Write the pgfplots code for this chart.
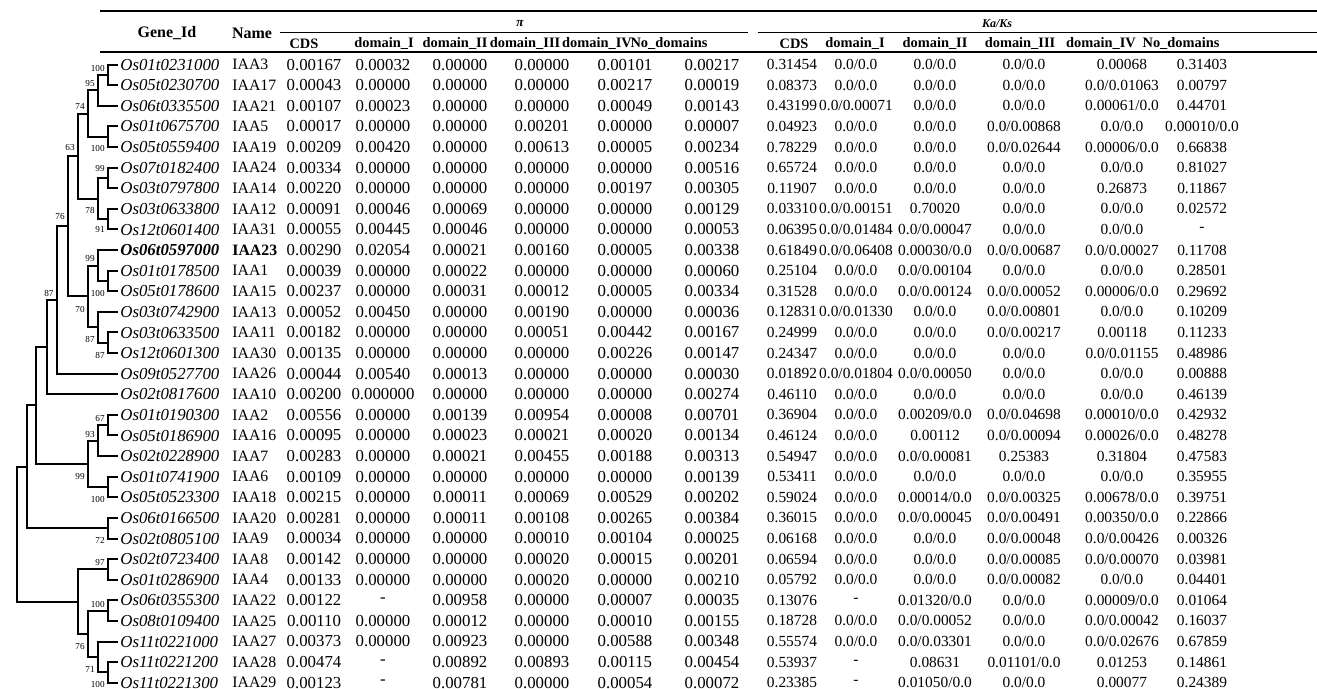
\documentclass[border=0pt]{standalone}
\usepackage{pgfplots}
\pgfplotsset{compat=1.18}
\usepackage{pgfplotstable}
\usepackage{fontspec}
\setmainfont{Liberation Serif}

\newcommand\dat{\fontsize{8.4}{10}\selectfont}
\newcommand\kdat{\fontsize{7.7}{9}\selectfont}
\newcommand\nm{\fontsize{7.9}{9}\selectfont}
\newcommand\hdr{\fontsize{7.2}{9}\selectfont\bfseries}
\newcommand\bs{\fontsize{4.6}{5}\selectfont}

\pgfplotstableread{
r p1 p2 p3 p4 p5 p6 k1 k2 k3 k4 k5 k6
1 0.00167 0.00032 0.00000 0.00000 0.00101 0.00217 0.31454 0.0/0.0 0.0/0.0 0.0/0.0 0.00068 0.31403
2 0.00043 0.00000 0.00000 0.00000 0.00217 0.00019 0.08373 0.0/0.0 0.0/0.0 0.0/0.0 0.0/0.01063 0.00797
3 0.00107 0.00023 0.00000 0.00000 0.00049 0.00143 0.43199 0.0/0.00071 0.0/0.0 0.0/0.0 0.00061/0.0 0.44701
4 0.00017 0.00000 0.00000 0.00201 0.00000 0.00007 0.04923 0.0/0.0 0.0/0.0 0.0/0.00868 0.0/0.0 0.00010/0.0
5 0.00209 0.00420 0.00000 0.00613 0.00005 0.00234 0.78229 0.0/0.0 0.0/0.0 0.0/0.02644 0.00006/0.0 0.66838
6 0.00334 0.00000 0.00000 0.00000 0.00000 0.00516 0.65724 0.0/0.0 0.0/0.0 0.0/0.0 0.0/0.0 0.81027
7 0.00220 0.00000 0.00000 0.00000 0.00197 0.00305 0.11907 0.0/0.0 0.0/0.0 0.0/0.0 0.26873 0.11867
8 0.00091 0.00046 0.00069 0.00000 0.00000 0.00129 0.03310 0.0/0.00151 0.70020 0.0/0.0 0.0/0.0 0.02572
9 0.00055 0.00445 0.00046 0.00000 0.00000 0.00053 0.06395 0.0/0.01484 0.0/0.00047 0.0/0.0 0.0/0.0 -
10 0.00290 0.02054 0.00021 0.00160 0.00005 0.00338 0.61849 0.0/0.06408 0.00030/0.0 0.0/0.00687 0.0/0.00027 0.11708
11 0.00039 0.00000 0.00022 0.00000 0.00000 0.00060 0.25104 0.0/0.0 0.0/0.00104 0.0/0.0 0.0/0.0 0.28501
12 0.00237 0.00000 0.00031 0.00012 0.00005 0.00334 0.31528 0.0/0.0 0.0/0.00124 0.0/0.00052 0.00006/0.0 0.29692
13 0.00052 0.00450 0.00000 0.00190 0.00000 0.00036 0.12831 0.0/0.01330 0.0/0.0 0.0/0.00801 0.0/0.0 0.10209
14 0.00182 0.00000 0.00000 0.00051 0.00442 0.00167 0.24999 0.0/0.0 0.0/0.0 0.0/0.00217 0.00118 0.11233
15 0.00135 0.00000 0.00000 0.00000 0.00226 0.00147 0.24347 0.0/0.0 0.0/0.0 0.0/0.0 0.0/0.01155 0.48986
16 0.00044 0.00540 0.00013 0.00000 0.00000 0.00030 0.01892 0.0/0.01804 0.0/0.00050 0.0/0.0 0.0/0.0 0.00888
17 0.00200 0.000000 0.00000 0.00000 0.00000 0.00274 0.46110 0.0/0.0 0.0/0.0 0.0/0.0 0.0/0.0 0.46139
18 0.00556 0.00000 0.00139 0.00954 0.00008 0.00701 0.36904 0.0/0.0 0.00209/0.0 0.0/0.04698 0.00010/0.0 0.42932
19 0.00095 0.00000 0.00023 0.00021 0.00020 0.00134 0.46124 0.0/0.0 0.00112 0.0/0.00094 0.00026/0.0 0.48278
20 0.00283 0.00000 0.00021 0.00455 0.00188 0.00313 0.54947 0.0/0.0 0.0/0.00081 0.25383 0.31804 0.47583
21 0.00109 0.00000 0.00000 0.00000 0.00000 0.00139 0.53411 0.0/0.0 0.0/0.0 0.0/0.0 0.0/0.0 0.35955
22 0.00215 0.00000 0.00011 0.00069 0.00529 0.00202 0.59024 0.0/0.0 0.00014/0.0 0.0/0.00325 0.00678/0.0 0.39751
23 0.00281 0.00000 0.00011 0.00108 0.00265 0.00384 0.36015 0.0/0.0 0.0/0.00045 0.0/0.00491 0.00350/0.0 0.22866
24 0.00034 0.00000 0.00000 0.00010 0.00104 0.00025 0.06168 0.0/0.0 0.0/0.0 0.0/0.00048 0.0/0.00426 0.00326
25 0.00142 0.00000 0.00000 0.00020 0.00015 0.00201 0.06594 0.0/0.0 0.0/0.0 0.0/0.00085 0.0/0.00070 0.03981
26 0.00133 0.00000 0.00000 0.00020 0.00000 0.00210 0.05792 0.0/0.0 0.0/0.0 0.0/0.00082 0.0/0.0 0.04401
27 0.00122 - 0.00958 0.00000 0.00007 0.00035 0.13076 - 0.01320/0.0 0.0/0.0 0.00009/0.0 0.01064
28 0.00110 0.00000 0.00012 0.00000 0.00010 0.00155 0.18728 0.0/0.0 0.0/0.00052 0.0/0.0 0.0/0.00042 0.16037
29 0.00373 0.00000 0.00923 0.00000 0.00588 0.00348 0.55574 0.0/0.0 0.0/0.03301 0.0/0.0 0.0/0.02676 0.67859
30 0.00474 - 0.00892 0.00893 0.00115 0.00454 0.53937 - 0.08631 0.01101/0.0 0.01253 0.14861
31 0.00123 - 0.00781 0.00000 0.00054 0.00072 0.23385 - 0.01050/0.0 0.0/0.0 0.00077 0.24389
}\vals

\pgfplotsset{
  txtplot/.style n args={2}{only marks, mark=*, mark size=0pt,
    mark options={draw=none,fill=none},
    nodes near coords, point meta=explicit symbolic,
    nodes near coords align={#2},
    every node near coord/.append style={inner sep=0pt, text=black, font=#1}},
  rowy/.style={y filter/.expression={64.7+(y-1)*20.6}},
  tree/.style={black, line width=1pt, no markers, line join=miter},
}

\begin{document}
\begin{tikzpicture}
\begin{axis}[
  width=658.5pt, height=344.5pt, scale only axis,
  xmin=0, xmax=1317, ymin=0, ymax=689, y dir=reverse,
  hide axis, clip=false,
]
% table rules
\addplot[black, line width=1.1pt, no markers] coordinates {(100,11) (1317,11)};
\addplot[black, line width=1.1pt, no markers] coordinates {(100,52) (1317,52)};
\addplot[black, line width=0.8pt, no markers] coordinates {(280,32.5) (748,32.5)};
\addplot[black, line width=0.8pt, no markers] coordinates {(758,32.5) (1317,32.5)};

% header text
\node[font=\fontsize{8}{9}\selectfont\bfseries] at (axis cs:167,33) {Gene\_Id};
\node[font=\fontsize{8}{9}\selectfont\bfseries] at (axis cs:252,33) {Name};
\node[font=\fontsize{6.6}{7}\selectfont\bfseries\itshape] at (axis cs:520,23.5) {π};
\node[font=\fontsize{6}{7}\selectfont\bfseries\itshape] at (axis cs:997,23.5) {Ka/Ks};
\node[font=\hdr] at (axis cs:304,43.5) {CDS};
\node[font=\hdr] at (axis cs:384,43.5) {domain\_I};
\node[font=\hdr] at (axis cs:455,43.5) {domain\_II};
\node[font=\hdr] at (axis cs:525,43.5) {domain\_III};
\node[font=\hdr] at (axis cs:597,43.5) {domain\_IV};
\node[font=\hdr] at (axis cs:669,43.5) {No\_domains};
\node[font=\hdr] at (axis cs:794,43.5) {CDS};
\node[font=\hdr] at (axis cs:855,43.5) {domain\_I};
\node[font=\hdr] at (axis cs:935,43.5) {domain\_II};
\node[font=\hdr] at (axis cs:1020,43.5) {domain\_III};
\node[font=\hdr] at (axis cs:1101,43.5) {domain\_IV};
\node[font=\hdr] at (axis cs:1181,43.5) {No\_domains};

% gene ids
\addplot[txtplot={\dat\itshape}{west}, rowy] coordinates {
(120,1) [Os01t0231000] (120,2) [Os05t0230700] (120,3) [Os06t0335500]
(120,4) [Os01t0675700] (120,5) [Os05t0559400] (120,6) [Os07t0182400]
(120,7) [Os03t0797800] (120,8) [Os03t0633800] (120,9) [Os12t0601400]
(120,11) [Os01t0178500] (120,12) [Os05t0178600]
(120,13) [Os03t0742900] (120,14) [Os03t0633500] (120,15) [Os12t0601300]
(120,16) [Os09t0527700] (120,17) [Os02t0817600] (120,18) [Os01t0190300]
(120,19) [Os05t0186900] (120,20) [Os02t0228900] (120,21) [Os01t0741900]
(120,22) [Os05t0523300] (120,23) [Os06t0166500] (120,24) [Os02t0805100]
(120,25) [Os02t0723400] (120,26) [Os01t0286900] (120,27) [Os06t0355300]
(120,28) [Os08t0109400] (120,29) [Os11t0221000] (120,30) [Os11t0221200]
(120,31) [Os11t0221300]
};
\addplot[txtplot={\dat\bfseries\itshape}{west}, rowy] coordinates {(120,10) [Os06t0597000]};
% names
\addplot[txtplot={\nm}{west}, rowy] coordinates {
(232,1) [IAA3] (232,2) [IAA17] (232,3) [IAA21] (232,4) [IAA5] (232,5) [IAA19]
(232,6) [IAA24] (232,7) [IAA14] (232,8) [IAA12] (232,9) [IAA31]
(232,11) [IAA1] (232,12) [IAA15] (232,13) [IAA13] (232,14) [IAA11] (232,15) [IAA30]
(232,16) [IAA26] (232,17) [IAA10] (232,18) [IAA2] (232,19) [IAA16] (232,20) [IAA7]
(232,21) [IAA6] (232,22) [IAA18] (232,23) [IAA20] (232,24) [IAA9] (232,25) [IAA8]
(232,26) [IAA4] (232,27) [IAA22] (232,28) [IAA25] (232,29) [IAA27] (232,30) [IAA28]
(232,31) [IAA29]
};
\addplot[txtplot={\nm\bfseries}{west}, rowy] coordinates {(232,10) [IAA23]};

% value columns: pi
\addplot[txtplot={\dat}{center}] table[x expr=314, y expr=64.7+(\thisrow{r}-1)*20.6, meta=p1] {\vals};
\addplot[txtplot={\dat}{center}] table[x expr=383, y expr=64.7+(\thisrow{r}-1)*20.6, meta=p2] {\vals};
\addplot[txtplot={\dat}{center}] table[x expr=460, y expr=64.7+(\thisrow{r}-1)*20.6, meta=p3] {\vals};
\addplot[txtplot={\dat}{center}] table[x expr=542, y expr=64.7+(\thisrow{r}-1)*20.6, meta=p4] {\vals};
\addplot[txtplot={\dat}{center}] table[x expr=625, y expr=64.7+(\thisrow{r}-1)*20.6, meta=p5] {\vals};
\addplot[txtplot={\dat}{center}] table[x expr=712, y expr=64.7+(\thisrow{r}-1)*20.6, meta=p6] {\vals};
% value columns: Ka/Ks
\addplot[txtplot={\kdat}{center}] table[x expr=792, y expr=64.7+(\thisrow{r}-1)*20.6, meta=k1] {\vals};
\addplot[txtplot={\kdat}{center}] table[x expr=856, y expr=64.7+(\thisrow{r}-1)*20.6, meta=k2] {\vals};
\addplot[txtplot={\kdat}{center}] table[x expr=935, y expr=64.7+(\thisrow{r}-1)*20.6, meta=k3] {\vals};
\addplot[txtplot={\kdat}{center}] table[x expr=1024, y expr=64.7+(\thisrow{r}-1)*20.6, meta=k4] {\vals};
\addplot[txtplot={\kdat}{center}] table[x expr=1122, y expr=64.7+(\thisrow{r}-1)*20.6, meta=k5] {\vals};
\addplot[txtplot={\kdat}{center}] table[x expr=1202, y expr=64.7+(\thisrow{r}-1)*20.6, meta=k6] {\vals};

% tree
\addplot[tree] coordinates {(118,64.7)(108,64.7)(108,85.3)(118,85.3)};
\addplot[tree] coordinates {(108,75)(98,75)(98,105.9)(118,105.9)};
\addplot[tree] coordinates {(118,126.5)(108,126.5)(108,147.1)(118,147.1)};
\addplot[tree] coordinates {(98,90.45)(88,90.45)(88,136.8)(108,136.8)};
\addplot[tree] coordinates {(118,167.7)(108,167.7)(108,188.3)(118,188.3)};
\addplot[tree] coordinates {(118,208.9)(108,208.9)(108,229.5)(118,229.5)};
\addplot[tree] coordinates {(108,178)(98,178)(98,219.2)(108,219.2)};
\addplot[tree] coordinates {(88,113.63)(78,113.63)(78,198.6)(98,198.6)};
\addplot[tree] coordinates {(118,270.7)(108,270.7)(108,291.3)(118,291.3)};
\addplot[tree] coordinates {(118,250.1)(98,250.1)(98,281)(108,281)};
\addplot[tree] coordinates {(118,332.5)(108,332.5)(108,353.1)(118,353.1)};
\addplot[tree] coordinates {(118,311.9)(98,311.9)(98,342.8)(108,342.8)};
\addplot[tree] coordinates {(98,265.55)(88,265.55)(88,327.35)(98,327.35)};
\addplot[tree] coordinates {(78,156.11)(68,156.11)(68,296.45)(88,296.45)};
\addplot[tree] coordinates {(68,226.28)(57,226.28)(57,373.7)(118,373.7)};
\addplot[tree] coordinates {(57,299.99)(47,299.99)(47,394.3)(118,394.3)};
\addplot[tree] coordinates {(118,414.9)(108,414.9)(108,435.5)(118,435.5)};
\addplot[tree] coordinates {(108,425.2)(98,425.2)(98,456.1)(118,456.1)};
\addplot[tree] coordinates {(118,476.7)(108,476.7)(108,497.3)(118,497.3)};
\addplot[tree] coordinates {(98,440.65)(88,440.65)(88,487)(108,487)};
\addplot[tree] coordinates {(47,347.15)(36,347.15)(36,463.83)(88,463.83)};
\addplot[tree] coordinates {(118,517.9)(108,517.9)(108,538.5)(118,538.5)};
\addplot[tree] coordinates {(36,405.49)(27,405.49)(27,528.2)(108,528.2)};
\addplot[tree] coordinates {(118,559.1)(108,559.1)(108,579.7)(118,579.7)};
\addplot[tree] coordinates {(118,600.3)(108,600.3)(108,620.9)(118,620.9)};
\addplot[tree] coordinates {(118,662.1)(108,662.1)(108,682.7)(118,682.7)};
\addplot[tree] coordinates {(118,641.5)(98,641.5)(98,672.4)(108,672.4)};
\addplot[tree] coordinates {(108,610.6)(88,610.6)(88,656.95)(98,656.95)};
\addplot[tree] coordinates {(108,569.4)(78,569.4)(78,633.78)(88,633.78)};
\addplot[tree] coordinates {(27,466.85)(17,466.85)(17,601.59)(78,601.59)};

% bootstrap values
\addplot[txtplot={\bs}{east}] coordinates {
(105,68) [100] (95,83.5) [95] (105,148.5) [100] (85,106.6) [74]
(105,169) [99] (105,230) [91] (95,210.5) [78] (75,148) [63]
(95,258.5) [99] (105,293) [100] (105,355) [87] (95,339.5) [87]
(85,309) [70] (65,217) [76] (54,293) [87]
(105,418.5) [67] (95,434) [93] (105,499) [100] (85,476) [99]
(105,540.5) [72] (105,562.5) [97] (105,604) [100] (105,684) [100]
(95,669.5) [71] (85,646.5) [76]
};
\end{axis}
\pgfresetboundingbox
\path[use as bounding box] (current axis.south west) rectangle (current axis.north east);
\end{tikzpicture}
\end{document}
